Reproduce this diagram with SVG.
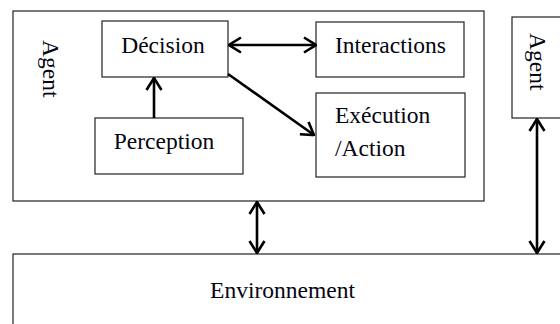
<svg xmlns="http://www.w3.org/2000/svg" width="560" height="324" viewBox="0 0 560 324">
<defs>
<style>
.box{fill:#fff;stroke:#222;stroke-width:1.2}
.t{font-family:"Liberation Serif","Times New Roman",serif;font-size:23.5px;fill:#050510}
.c{fill:none;stroke:#000;stroke-width:2.6}
</style>
<marker id="ah" viewBox="0 0 15 18" refX="14" refY="9" markerWidth="15" markerHeight="18" markerUnits="userSpaceOnUse" orient="auto-start-reverse">
<path d="M2,1.5 L14,9 L2,16.5" fill="none" stroke="#000" stroke-width="2.6"/>
</marker>
</defs>
<rect width="560" height="324" fill="#fff"/>
<g id="agent">
<rect class="box" x="13" y="11" width="471" height="190"/>
<text class="t" transform="translate(43,40) rotate(90)">Agent</text>
</g>
<g id="agent2">
<rect class="box" x="512" y="17" width="60" height="101"/>
<text class="t" transform="translate(530,33) rotate(90)">Agent</text>
</g>
<g id="environnement">
<rect class="box" x="13" y="254" width="560" height="80"/>
<text class="t" x="282.5" y="298" text-anchor="middle">Environnement</text>
</g>
<g id="decision">
<rect class="box" x="102" y="21" width="126" height="56"/>
<text class="t" x="163" y="53" text-anchor="middle">Décision</text>
</g>
<g id="perception">
<rect class="box" x="95" y="118" width="148" height="56"/>
<text class="t" x="164" y="149" text-anchor="middle">Perception</text>
</g>
<g id="interactions">
<rect class="box" x="316" y="22" width="148" height="55"/>
<text class="t" x="335" y="53">Interactions</text>
</g>
<g id="execution">
<rect class="box" x="316" y="93" width="149" height="84"/>
<text class="t" x="335" y="123">Exécution</text>
<text class="t" x="335" y="156">/Action</text>
</g>
<g id="connectors">
<line class="c" x1="154" y1="118" x2="154" y2="78" marker-end="url(#ah)"/>
<line class="c" x1="229" y1="45" x2="316" y2="45" marker-start="url(#ah)" marker-end="url(#ah)"/>
<line class="c" x1="228" y1="74" x2="314" y2="135" marker-end="url(#ah)"/>
<line class="c" x1="257" y1="202" x2="257" y2="253" marker-start="url(#ah)" marker-end="url(#ah)"/>
<line class="c" x1="537" y1="119" x2="537" y2="253" marker-start="url(#ah)" marker-end="url(#ah)"/>
</g>
</svg>
